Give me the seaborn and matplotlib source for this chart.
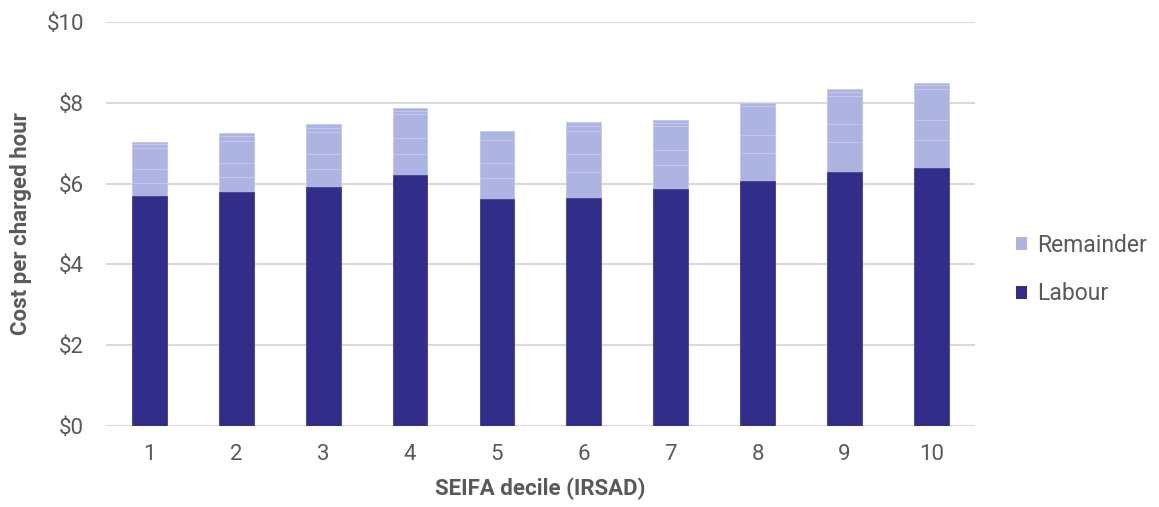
import numpy as np
import pandas as pd
import matplotlib
matplotlib.use("Agg")
import matplotlib.pyplot as plt
from matplotlib.patches import Patch
import seaborn as sns

# Cost per charged hour by SEIFA decile (IRSAD)
deciles = ["1", "2", "3", "4", "5", "6", "7", "8", "9", "10"]
labour = [5.69, 5.79, 5.92, 6.21, 5.61, 5.65, 5.87, 6.06, 6.29, 6.39]
# Non-labour cost items that together make up the "Remainder" stack
remainder_parts = [
    [0.32, 0.37, 0.43, 0.52, 0.54, 0.63, 0.58, 0.69, 0.74, 0.69],
    [0.36, 0.34, 0.38, 0.39, 0.35, 0.45, 0.37, 0.45, 0.45, 0.49],
    [0.51, 0.56, 0.54, 0.60, 0.57, 0.56, 0.60, 0.72, 0.69, 0.76],
    [0.10, 0.13, 0.10, 0.08, 0.23, 0.14, 0.07, 0.08, 0.10, 0.10],
    [0.06, 0.07, 0.10, 0.08, 0.00, 0.09, 0.08, 0.00, 0.06, 0.07],
]
y_ticks = [0, 2, 4, 6, 8, 10]
y_tick_labels = ["$0", "$2", "$4", "$6", "$8", "$10"]

LABOUR_C = "#332d8a"
REMAINDER_C = "#adb4e2"
TEXT_C = "#595959"
GRID_C = "#d9d9d9"

sns.set_theme(style="white")
plt.rcParams["font.family"] = ["Roboto", "DejaVu Sans"]

fig = plt.figure(figsize=(11.59, 5.07), dpi=100)
ax = fig.add_axes([0.0915, 0.160, 0.7495, 0.7965])

# cumulative layers, drawn tallest first so each boundary shows on top
layers = [np.array(labour, dtype=float)]
for part in remainder_parts:
    layers.append(layers[-1] + np.array(part, dtype=float))

for i, cum in enumerate(reversed(layers)):
    is_labour = i == len(layers) - 1
    df = pd.DataFrame({"decile": deciles, "cost": cum})
    sns.barplot(
        data=df, x="decile", y="cost", ax=ax,
        color=LABOUR_C if is_labour else REMAINDER_C,
        saturation=1, width=0.4, errorbar=None,
        edgecolor="#4d479a" if is_labour else "#c4c9ea",
        linewidth=0.7, zorder=3,
    )

ax.set_ylim(0, 10)
ax.set_xlim(-0.5, 9.5)
ax.set_yticks(y_ticks)
ax.set_yticklabels(y_tick_labels)
ax.yaxis.grid(True, color=GRID_C, linewidth=1.5, zorder=0)
ax.set_axisbelow(True)
for s in ax.spines.values():
    s.set_visible(False)
ax.tick_params(axis="both", length=0, labelsize=16, colors=TEXT_C)
ax.tick_params(axis="y", pad=16)
ax.tick_params(axis="x", pad=13)

ax.set_ylabel("Cost per charged hour", fontsize=16, fontweight="bold",
              color=TEXT_C, labelpad=10)
ax.set_xlabel("SEIFA decile (IRSAD)", fontsize=16, fontweight="bold",
              color=TEXT_C, labelpad=9)

handles = [Patch(facecolor=REMAINDER_C, edgecolor="none", label="Remainder"),
           Patch(facecolor=LABOUR_C, edgecolor="none", label="Labour")]
leg = ax.legend(handles=handles, loc="center left", bbox_to_anchor=(1.037, 0.387),
                frameon=False, fontsize=16.5, handlelength=0.5, handleheight=0.5,
                handletextpad=0.4, labelspacing=1.1, borderaxespad=0)
for t in leg.get_texts():
    t.set_color(TEXT_C)

fig.savefig("out.png", dpi=100)
